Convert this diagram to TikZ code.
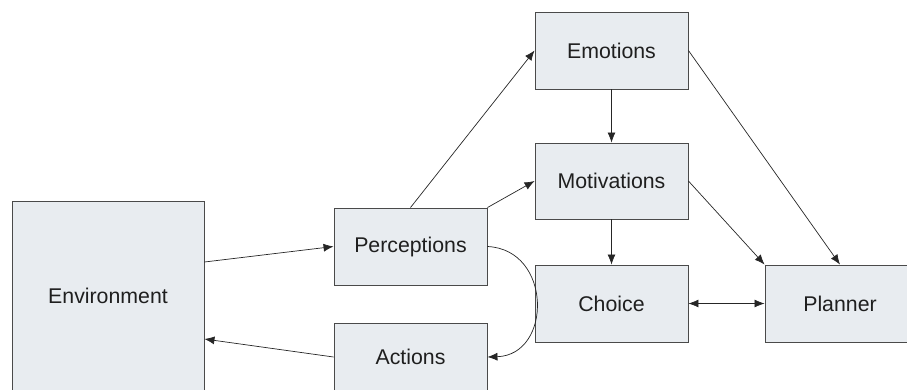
\documentclass[tikz,border=0pt]{standalone}
\usepackage{fontspec}
\setmainfont{Liberation Sans}
\usetikzlibrary{arrows.meta}
\definecolor{boxfill}{HTML}{E8ECF0}
\definecolor{boxline}{HTML}{4A4A4A}
\begin{document}
\begin{tikzpicture}[x=1pt,y=-1pt,
  box/.style={draw=boxline, fill=boxfill, line width=0.9pt, inner sep=0pt,
    font=\fontsize{21.3}{25}\selectfont, text=black!88},
  arr/.style={-{Latex[length=10pt,width=8pt]}, line width=0.7pt, draw=black!85},
  dbl/.style={{Latex[length=10pt,width=8pt]}-{Latex[length=10pt,width=8pt]}, line width=0.7pt, draw=black!85},
  ]
\useasboundingbox (0,0) rectangle (907,389);
\clip (0,0) rectangle (907,389);
\node[box, minimum width=192pt, minimum height=190pt] (env) at (108,296) {Environment};
\node[box, minimum width=153pt, minimum height=77pt] (per) at (410.5,246.5) {Perceptions};
\node[box, minimum width=153pt, minimum height=68pt] (act) at (410.5,357) {Actions};
\node[box, minimum width=153pt, minimum height=77pt] (emo) at (611.5,50.5) {Emotions};
\node[box, minimum width=153pt, minimum height=76pt] (mot) at (611.5,181) {Motivations};
\node[box, minimum width=153pt, minimum height=77pt] (cho) at (611.5,303.5) {Choice};
\node[box, minimum width=200pt, minimum height=77pt] (pla) at (865,303.5) {\hspace*{-50pt}Planner};

\draw[arr] ([yshift=34pt]env.east) -- (per.west);
\draw[arr] (act.west) -- ([yshift=-43pt]env.east);
\draw[arr] (per.north) -- (emo.west);
\draw[arr] (per.north east) -- (mot.west);
\draw[arr] (emo.south) -- (mot.north);
\draw[arr] (mot.south) -- (cho.north);
\draw[arr] (mot.east) -- (pla.north west);
\draw[arr] (emo.east) -- ([xshift=-25pt]pla.north);
\draw[dbl] (cho.east) -- (pla.west);
\draw[arr] (per.east) .. controls +(65,3) and +(65,-2) .. (act.east);
\end{tikzpicture}
\end{document}
